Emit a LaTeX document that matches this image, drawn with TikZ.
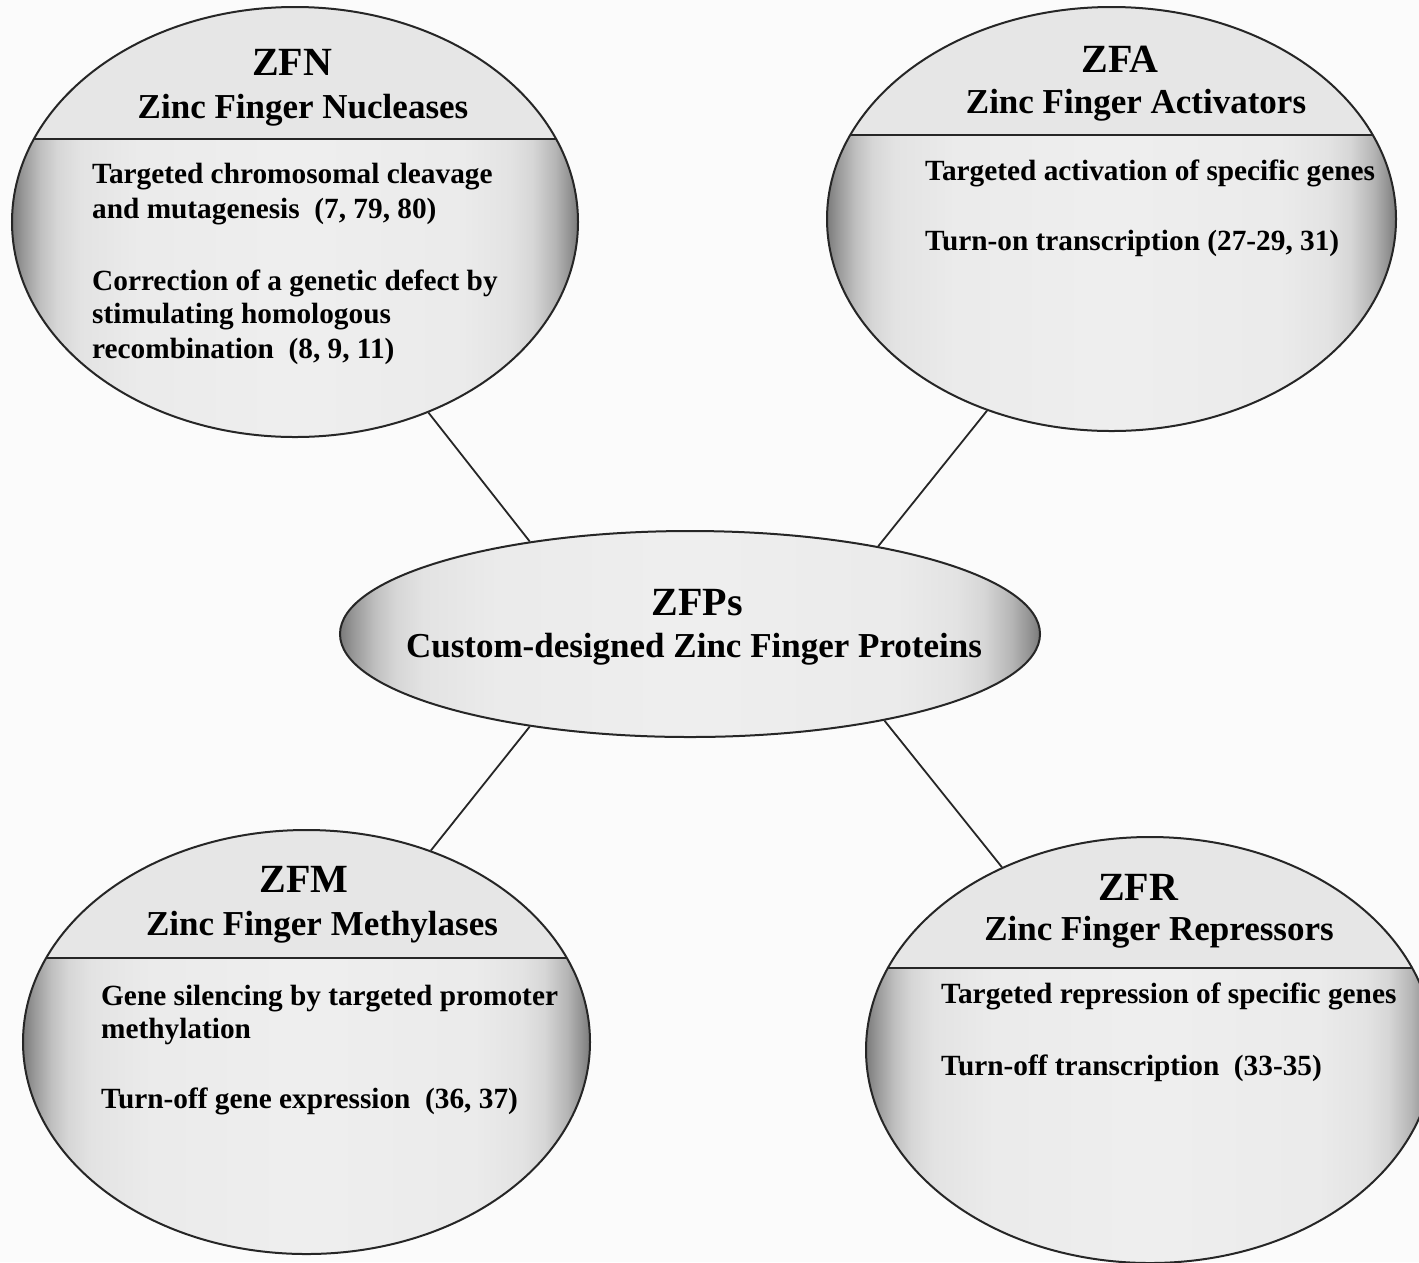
\documentclass[tikz,border=0pt]{standalone}
\usepackage{fontspec}
\setmainfont{Liberation Serif}
\usetikzlibrary{shapes.geometric}
\definecolor{bgc}{HTML}{FBFBFB}
\definecolor{capc}{HTML}{E6E6E6}
\pgfdeclarehorizontalshading{edgeshade}{100bp}{
rgb(0bp)=(0.48,0.48,0.48);
rgb(25bp)=(0.48,0.48,0.48);
rgb(26bp)=(0.6,0.6,0.6);
rgb(27.5bp)=(0.75,0.75,0.75);
rgb(29bp)=(0.84,0.84,0.84);
rgb(31bp)=(0.89,0.89,0.89);
rgb(36bp)=(0.92,0.92,0.92);
rgb(50bp)=(0.935,0.935,0.935);
rgb(65bp)=(0.92,0.92,0.92);
rgb(69bp)=(0.89,0.89,0.89);
rgb(71bp)=(0.84,0.84,0.84);
rgb(73bp)=(0.71,0.71,0.71);
rgb(74.2bp)=(0.58,0.58,0.58);
rgb(75bp)=(0.48,0.48,0.48);
rgb(100bp)=(0.48,0.48,0.48)}
\begin{document}
\begin{tikzpicture}[x=1bp,y=-1bp,
  ellbase/.style={ellipse, draw=black!85, line width=2bp, inner sep=0pt, shading=edgeshade},
  bigell/.style={ellbase,
    path picture={
      \fill[capc] (path picture bounding box.north west) rectangle ([yshift=-#1]path picture bounding box.north east);
      \draw[line width=2bp, black!85] ([yshift=-#1]path picture bounding box.north west) -- ([yshift=-#1]path picture bounding box.north east);
    }},
  ttl/.style={font=\fontsize{40bp}{48bp}\selectfont\bfseries, inner sep=0pt, anchor=base},
  sub/.style={font=\fontsize{35bp}{42bp}\selectfont\bfseries, inner sep=0pt, anchor=base},
  body/.style={font=\fontsize{29.3bp}{35bp}\selectfont\bfseries, inner sep=0pt, anchor=base west},
  conn/.style={line width=1.8bp, black!85}
]
\path[use as bounding box, fill=bgc] (0,0) rectangle (1419,1262);
\clip (0,0) rectangle (1419,1262);

% ellipses
\node[bigell=132bp, minimum width=566bp, minimum height=430bp] (zfn) at (295,222) {};
\node[bigell=128bp, minimum width=569bp, minimum height=424bp] (zfa) at (1111.5,219) {};
\node[ellbase, minimum width=700bp, minimum height=206bp] (zfps) at (690,634) {};
\node[bigell=128bp, minimum width=567bp, minimum height=424bp] (zfm) at (306.5,1042) {};
\node[bigell=131bp, minimum width=568bp, minimum height=426bp] (zfr) at (1150,1050) {};

% connectors
\draw[conn] (zfn.-55.8) -- (zfps.150.3);
\draw[conn] (zfa.-123.8) -- (zfps.25.8);
\draw[conn] (zfm.57.7) -- (zfps.-150.3);
\draw[conn] (zfr.129.7) -- (zfps.-24.8);

% ZFN text
\node[ttl] (zfnT) at (292,75) {ZFN};
\node[sub] (zfnS) at (303,118) {Zinc Finger Nucleases};
\node[body] (zfnA) at (92,183) {Targeted chromosomal cleavage};
\node[body] (zfnB) at (92,218) {and mutagenesis\ \ (7, 79, 80)};
\node[body] (zfnC) at (92,290) {Correction of a genetic defect by};
\node[body] (zfnD) at (92,323) {stimulating homologous};
\node[body] (zfnE) at (92,358) {recombination\ \ (8, 9, 11)};

% ZFA text
\node[ttl] (zfaT) at (1120,72) {ZFA};
\node[sub] (zfaS) at (1136,113) {Zinc Finger Activators};
\node[body] (zfaA) at (925,180) {Targeted activation of specific genes};
\node[body] (zfaB) at (925,250) {Turn-on transcription (27-29, 31)};

% ZFPs text
\node[ttl] (zfpsT) at (697,615) {ZFPs};
\node[sub] (zfpsS) at (694,657) {Custom-designed Zinc Finger Proteins};

% ZFM text
\node[ttl] (zfmT) at (304,892) {ZFM};
\node[sub] (zfmS) at (322,935) {Zinc Finger Methylases};
\node[body] (zfmA) at (101,1005) {Gene silencing by targeted promoter};
\node[body] (zfmB) at (101,1038) {methylation};
\node[body] (zfmC) at (101,1108) {Turn-off gene expression\ \ (36, 37)};

% ZFR text
\node[ttl] (zfrT) at (1138,900) {ZFR};
\node[sub] (zfrS) at (1159,940) {Zinc Finger Repressors};
\node[body] (zfrA) at (941,1003) {Targeted repression of specific genes};
\node[body] (zfrB) at (941,1075) {Turn-off transcription\ \ (33-35)};
\end{tikzpicture}
\end{document}
